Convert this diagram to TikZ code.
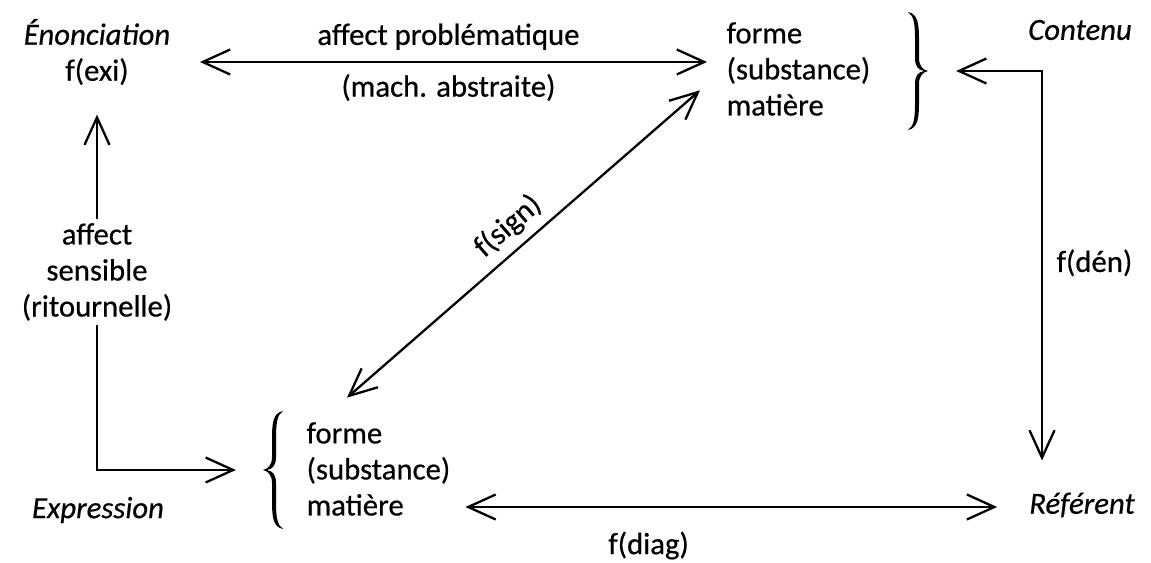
\documentclass[tikz,border=0pt]{standalone}
\usepackage{fontspec}
\setmainfont{Carlito}[FakeBold=0.5]
\usetikzlibrary{arrows.meta,positioning}

\begin{document}
\begin{tikzpicture}[
x=0.02cm, y=-0.02cm, >={Straight Barb[length=5.5mm,width=5mm]}, line width=1.3pt,
txt/.style={font=\fontsize{17.5}{20.5}\selectfont, align=center, inner sep=2pt},
pole/.style={txt, font=\fontsize{17.5}{20.5}\selectfont\itshape},
plan/.style={txt, align=left, anchor=west},
accol/.style={inner sep=0pt, minimum width=0.4cm, minimum height=2.36cm},
accolade/.pic={
	\fill (-10,-59) .. controls (0,-57) and (1,-47) .. (1,-31) -- (1,-13)
		.. controls (1,-5) and (5,-1) .. (10,0) .. controls (5,1) and (1,5) .. (1,13)
		-- (1,31) .. controls (1,47) and (0,57) .. (-10,59)
		.. controls (-4,55) and (-3,47) .. (-3,31) -- (-3,13)
		.. controls (-3,5) and (0,1) .. (6,0) .. controls (0,-1) and (-3,-5) .. (-3,-13)
		-- (-3,-31) .. controls (-3,-47) and (-4,-55) .. (-10,-59) -- cycle;
}
	]
	\useasboundingbox (0,0) rectangle (1151,563);
	% Nodes
	\node[txt] (enon) at (97,52) {\textit{Énonciation}\\f(exi)};
	\node[pole] (cont) at (1080,30) {Contenu};
	\node[pole] (expr) at (98,510) {Expression};
	\node[pole] (refe) at (1082,505) {Référent};
	\node[plan] (ftop) at (722,69) {forme\\(substance)\\matière};
	\node[accol] (btop) at (918,71) {};
	\node[plan] (fexp) at (302,469) {forme\\(substance)\\matière};
	\node[accol] (bexp) at (273,470) {};
	\node[txt] (aff) at (97,272) {affect\\sensible\\(ritournelle)};
	\coordinate (kn) at (1042,71);
	% Braces
	\path (btop.center) pic {accolade};
	\path (bexp.center) pic[xscale=-1] {accolade};
	% Edges
	\draw[<->, shorten <=0.5cm, shorten >=0.3cm] ([yshift=-0.2cm]enon.east) -- ([yshift=-0.2cm]enon.east -| ftop.west)
		node[txt, midway, above=0.15cm] (aprob) {affect problématique}
		node[txt, midway, below=0.15cm] (mach) {(mach. abstraite)};
	\draw[<->, shorten <=0.54cm, shorten >=0.55cm] (btop.east) -- (kn) -- (kn |- refe.north)
		node[txt, right=0.2cm, pos=.46] (fden) {f(dén)};
	\draw[<->, shorten <=0.21cm, shorten >=0.55cm] ([yshift=-0.76cm]fexp.east) -- ([yshift=-0.76cm]fexp.east -| refe.west)
		node[txt, below=0.4cm, pos=.34] (fdiag) {f(diag)};
	\draw[<->] ([shift={(45,-20)}]fexp.north west) -- ([shift={(-22,-30)}]ftop.south west)
		node[txt, midway, sloped, above=0.1cm] (fsign) {f(sign)};
	\draw[->, shorten >=0.5cm] (aff) -- (enon);
	\draw[->, shorten >=0.52cm] (aff.south) |- (bexp.west);
\end{tikzpicture}
\end{document}
